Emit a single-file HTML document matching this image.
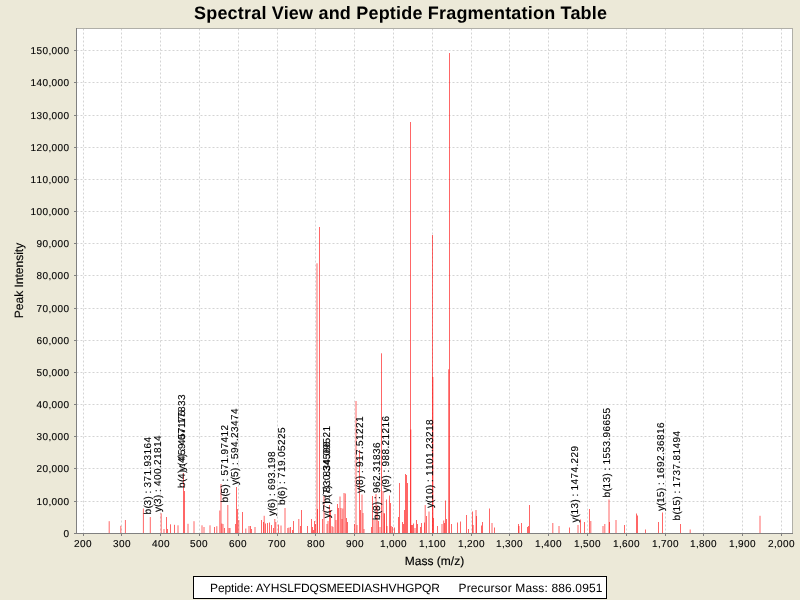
<!DOCTYPE html><html><head><meta charset="utf-8"><style>html,body{margin:0;padding:0;background:#ECE9D8;overflow:hidden}svg{display:block;will-change:transform}text{font-family:"Liberation Sans",Arial,sans-serif;text-rendering:geometricPrecision}.s{stroke:#000;stroke-width:0.12px}.s2{stroke:#000;stroke-width:0.15px}</style></head><body>
<svg width="800" height="600" viewBox="0 0 800 600">
<rect width="800" height="600" fill="#ECE9D8"/>
<text x="400.5" y="19" font-size="18" font-weight="bold" text-anchor="middle" textLength="413" lengthAdjust="spacing">Spectral View and Peptide Fragmentation Table</text>
<rect x="76" y="28" width="717" height="506" fill="#fff"/>
<path d="M83.5 28.5V533M121.5 28.5V533M160.5 28.5V533M199.5 28.5V533M238.5 28.5V533M277.5 28.5V533M315.5 28.5V533M354.5 28.5V533M393.5 28.5V533M432.5 28.5V533M471.5 28.5V533M509.5 28.5V533M548.5 28.5V533M587.5 28.5V533M626.5 28.5V533M665.5 28.5V533M703.5 28.5V533M742.5 28.5V533M781.5 28.5V533M76.5 501.5H792M76.5 468.5H792M76.5 436.5H792M76.5 404.5H792M76.5 372.5H792M76.5 340.5H792M76.5 308.5H792M76.5 275.5H792M76.5 243.5H792M76.5 211.5H792M76.5 179.5H792M76.5 147.5H792M76.5 115.5H792M76.5 82.5H792M76.5 50.5H792" stroke="#d4d4d4" stroke-width="1" stroke-dasharray="2 2" fill="none"/>
<path d="M109.20 521.20V533M120.80 525.80V533M125.40 520.00V533M143.40 508.50V533M150.30 517.00V533M161.20 513.30V533M164.00 529.00V533M166.50 517.00V533M167.50 529.00V533M170.50 524.30V533M174.50 524.80V533M178.00 525.30V533M183.50 473.00V533M184.50 491.00V533M188.00 523.80V533M194.00 521.20V533M202.00 525.30V533M204.00 527.00V533M210.00 525.30V533M214.50 527.00V533M216.80 526.20V533M219.80 510.50V533M221.00 484.00V533M221.80 523.50V533M223.00 524.00V533M224.50 528.00V533M227.80 505.00V533M229.00 528.00V533M230.00 528.00V533M235.50 524.00V533M236.50 487.00V533M237.50 509.00V533M238.80 520.00V533M242.50 512.00V533M245.80 528.50V533M249.00 526.00V533M250.50 526.00V533M251.50 529.00V533M255.00 527.00V533M261.50 520.00V533M263.50 522.00V533M264.20 515.80V533M265.50 523.50V533M267.50 523.00V533M269.50 522.50V533M271.50 525.00V533M273.50 528.00V533M274.80 519.00V533M275.80 522.00V533M278.50 524.50V533M281.00 525.50V533M285.00 508.00V533M287.80 528.00V533M289.00 527.50V533M290.50 527.00V533M292.50 530.00V533M293.50 521.00V533M298.80 519.00V533M300.50 526.00V533M301.50 510.00V533M307.50 526.00V533M311.50 519.00V533M312.50 527.00V533M313.50 530.00V533M314.50 521.00V533M315.50 524.00V533M317.00 263.30V533M317.50 509.00V533M319.50 227.00V533M322.50 519.00V533M324.00 496.00V533M327.00 524.00V533M328.00 521.00V533M329.50 505.00V533M330.50 510.00V533M332.00 526.00V533M333.00 527.00V533M335.00 514.00V533M336.00 520.00V533M337.50 504.00V533M338.50 508.00V533M340.00 496.50V533M341.00 508.00V533M342.00 519.00V533M342.80 508.50V533M344.00 493.00V533M345.30 493.50V533M346.50 518.00V533M347.50 522.00V533M354.50 524.00V533M356.00 401.00V533M357.00 525.00V533M359.50 450.00V533M360.50 510.00V533M362.00 494.50V533M363.00 513.00V533M364.00 529.00V533M371.50 527.00V533M372.50 496.00V533M374.00 520.00V533M376.00 494.00V533M377.20 505.00V533M378.50 521.00V533M380.00 527.00V533M381.50 353.30V533M383.00 491.00V533M384.00 513.00V533M384.50 513.50V533M386.50 499.50V533M387.00 526.00V533M389.50 495.50V533M390.50 503.00V533M391.20 526.00V533M392.50 527.00V533M394.50 527.50V533M398.50 517.00V533M399.50 483.00V533M402.50 522.00V533M403.50 524.00V533M404.50 510.00V533M405.50 474.00V533M406.50 475.00V533M407.50 483.00V533M410.50 122.00V533M410.80 429.50V533M411.50 525.00V533M412.50 525.00V533M413.50 523.50V533M415.00 528.00V533M416.50 520.00V533M417.50 524.00V533M420.50 527.00V533M421.50 523.00V533M424.50 522.50V533M425.20 505.00V533M426.50 516.00V533M429.00 511.50V533M432.50 235.00V533M432.90 377.00V533M433.50 518.00V533M437.50 526.00V533M442.00 524.00V533M443.70 520.50V533M444.50 523.00V533M445.50 500.50V533M446.50 519.00V533M449.50 53.00V533M448.70 369.30V533M451.50 524.00V533M457.50 522.50V533M460.50 521.50V533M466.50 515.00V533M468.50 529.00V533M472.50 511.50V533M473.20 525.00V533M476.00 510.00V533M476.50 516.00V533M481.50 525.50V533M482.50 522.00V533M489.50 508.50V533M492.00 523.00V533M494.50 527.50V533M518.50 524.00V533M519.00 526.00V533M521.50 523.00V533M527.50 527.00V533M528.50 526.00V533M529.50 505.00V533M552.80 523.00V533M559.00 526.00V533M569.50 527.50V533M578.00 525.00V533M580.50 519.50V533M584.50 522.00V533M589.50 509.00V533M590.80 521.00V533M603.00 526.00V533M604.80 524.00V533M609.00 499.50V533M609.50 522.00V533M616.00 520.00V533M624.50 525.00V533M636.50 513.50V533M637.50 515.50V533M645.50 529.50V533M658.50 522.00V533M662.50 512.50V533M680.50 524.00V533M690.20 529.50V533M760.00 515.80V533" stroke="#ff0000" stroke-opacity="0.6" stroke-width="1" fill="none"/>
<text class="s" transform="translate(150.50 514.50) rotate(-90)" font-size="10" x="0 6 9 15 18 21 24 27 33 39 45 48 54 60 66 72" y="0">b(3) : 371.93164</text>
<text class="s" transform="translate(161.30 512.00) rotate(-90)" font-size="10" x="0 5 8 14 17 20 23 26 32 38 44 47 53 59 65 71" y="0">y(3) : 400.21814</text>
<text class="s" transform="translate(184.50 488.00) rotate(-90)" font-size="10" x="0 6 9 15 18 21 24 27 33 39 45 48 54 60 66 72" y="0">b(4) : 459.07175</text>
<text class="s" transform="translate(184.50 471.00) rotate(-90)" font-size="10" x="0 5 8 14 17 20 23 26 32 38 44 47 53 59 65 71" y="0">y(4) : 457.17833</text>
<text class="s" transform="translate(228.00 502.50) rotate(-90)" font-size="10" x="0 6 9 15 18 21 24 27 33 39 45 48 54 60 66 72" y="0">b(5) : 571.97412</text>
<text class="s" transform="translate(237.70 485.00) rotate(-90)" font-size="10" x="0 5 8 14 17 20 23 26 32 38 44 47 53 59 65 71" y="0">y(5) : 594.23474</text>
<text class="s" transform="translate(275.00 516.00) rotate(-90)" font-size="10" x="0 5 8 14 17 20 23 26 32 38 44 47 53 59" y="0">y(6) : 693.198</text>
<text class="s" transform="translate(284.70 505.00) rotate(-90)" font-size="10" x="0 6 9 15 18 21 24 27 33 39 45 48 54 60 66 72" y="0">b(6) : 719.05225</text>
<text class="s" transform="translate(330.00 518.30) rotate(-90)" font-size="10" x="0 5 8 14 17 20 23 26 32 38 44 47 53 59 65 71" y="0">y(7) : 830.34566</text>
<text class="s" transform="translate(330.00 503.50) rotate(-90)" font-size="10" x="0 6 9 15 18 21 24 27 33 39 45 48 54 60 66 72" y="0">b(7) : 834.09521</text>
<text class="s" transform="translate(363.00 493.00) rotate(-90)" font-size="10" x="0 5 8 14 17 20 23 26 32 38 44 47 53 59 65 71" y="0">y(8) : 917.51221</text>
<text class="s" transform="translate(379.50 520.00) rotate(-90)" font-size="10" x="0 6 9 15 18 21 24 27 33 39 45 48 54 60 66 72" y="0">b(8) : 962.31836</text>
<text class="s" transform="translate(389.40 492.50) rotate(-90)" font-size="10" x="0 5 8 14 17 20 23 26 32 38 44 47 53 59 65 71" y="0">y(9) : 988.21216</text>
<text class="s" transform="translate(433.40 508.00) rotate(-90)" font-size="10" x="0 5 8 14 20 23 26 29 32 38 44 50 56 59 65 71 77 83" y="0">y(10) : 1101.23218</text>
<text class="s" transform="translate(578.40 522.40) rotate(-90)" font-size="10" x="0 5 8 14 20 23 26 29 32 38 44 50 56 59 65 71" y="0">y(13) : 1474.229</text>
<text class="s" transform="translate(610.00 497.50) rotate(-90)" font-size="10" x="0 6 9 15 21 24 27 30 33 39 45 51 57 60 66 72 78 84" y="0">b(13) : 1553.96655</text>
<text class="s" transform="translate(663.50 511.00) rotate(-90)" font-size="10" x="0 5 8 14 20 23 26 29 32 38 44 50 56 59 65 71 77 83" y="0">y(15) : 1692.36816</text>
<text class="s" transform="translate(680.00 520.60) rotate(-90)" font-size="10" x="0 6 9 15 21 24 27 30 33 39 45 51 57 60 66 72 78 84" y="0">b(15) : 1737.81494</text>
<path d="M76 28.5H792.5V533" stroke="#b0afa8" fill="none" shape-rendering="crispEdges"/>
<path d="M76.5 28V534M76 533.5H793M83.5 534V536M121.5 534V536M160.5 534V536M199.5 534V536M238.5 534V536M277.5 534V536M315.5 534V536M354.5 534V536M393.5 534V536M432.5 534V536M471.5 534V536M509.5 534V536M548.5 534V536M587.5 534V536M626.5 534V536M665.5 534V536M703.5 534V536M742.5 534V536M781.5 534V536M74 533.5H76M74 501.5H76M74 468.5H76M74 436.5H76M74 404.5H76M74 372.5H76M74 340.5H76M74 308.5H76M74 275.5H76M74 243.5H76M74 211.5H76M74 179.5H76M74 147.5H76M74 115.5H76M74 82.5H76M74 50.5H76" stroke="#808080" fill="none" shape-rendering="crispEdges"/>
<text class="s" x="74 80 86" y="547" font-size="10">200</text>
<text class="s" x="113 119 125" y="547" font-size="10">300</text>
<text class="s" x="152 158 164" y="547" font-size="10">400</text>
<text class="s" x="190 196 202" y="547" font-size="10">500</text>
<text class="s" x="229 235 241" y="547" font-size="10">600</text>
<text class="s" x="268 274 280" y="547" font-size="10">700</text>
<text class="s" x="307 313 319" y="547" font-size="10">800</text>
<text class="s" x="346 352 358" y="547" font-size="10">900</text>
<text class="s" x="380 386 389 395 401" y="547" font-size="10">1,000</text>
<text class="s" x="419 425 428 434 440" y="547" font-size="10">1,100</text>
<text class="s" x="458 464 467 473 479" y="547" font-size="10">1,200</text>
<text class="s" x="496 502 505 511 517" y="547" font-size="10">1,300</text>
<text class="s" x="535 541 544 550 556" y="547" font-size="10">1,400</text>
<text class="s" x="574 580 583 589 595" y="547" font-size="10">1,500</text>
<text class="s" x="613 619 622 628 634" y="547" font-size="10">1,600</text>
<text class="s" x="652 658 661 667 673" y="547" font-size="10">1,700</text>
<text class="s" x="690 696 699 705 711" y="547" font-size="10">1,800</text>
<text class="s" x="729 735 738 744 750" y="547" font-size="10">1,900</text>
<text class="s" x="768 774 777 783 789" y="547" font-size="10">2,000</text>
<text class="s" x="63.5" y="537" font-size="10">0</text>
<text class="s" x="36.5 42.5 48.5 51.5 57.5 63.5" y="505" font-size="10">10,000</text>
<text class="s" x="36.5 42.5 48.5 51.5 57.5 63.5" y="472" font-size="10">20,000</text>
<text class="s" x="36.5 42.5 48.5 51.5 57.5 63.5" y="440" font-size="10">30,000</text>
<text class="s" x="36.5 42.5 48.5 51.5 57.5 63.5" y="408" font-size="10">40,000</text>
<text class="s" x="36.5 42.5 48.5 51.5 57.5 63.5" y="376" font-size="10">50,000</text>
<text class="s" x="36.5 42.5 48.5 51.5 57.5 63.5" y="344" font-size="10">60,000</text>
<text class="s" x="36.5 42.5 48.5 51.5 57.5 63.5" y="312" font-size="10">70,000</text>
<text class="s" x="36.5 42.5 48.5 51.5 57.5 63.5" y="279" font-size="10">80,000</text>
<text class="s" x="36.5 42.5 48.5 51.5 57.5 63.5" y="247" font-size="10">90,000</text>
<text class="s" x="30.5 36.5 42.5 48.5 51.5 57.5 63.5" y="215" font-size="10">100,000</text>
<text class="s" x="30.5 36.5 42.5 48.5 51.5 57.5 63.5" y="183" font-size="10">110,000</text>
<text class="s" x="30.5 36.5 42.5 48.5 51.5 57.5 63.5" y="151" font-size="10">120,000</text>
<text class="s" x="30.5 36.5 42.5 48.5 51.5 57.5 63.5" y="119" font-size="10">130,000</text>
<text class="s" x="30.5 36.5 42.5 48.5 51.5 57.5 63.5" y="86" font-size="10">140,000</text>
<text class="s" x="30.5 36.5 42.5 48.5 51.5 57.5 63.5" y="54" font-size="10">150,000</text>
<text class="s2" x="434.5" y="565" font-size="12" text-anchor="middle">Mass (m/z)</text>
<text class="s2" transform="translate(22.6 280.5) rotate(-90)" font-size="12" text-anchor="middle">Peak Intensity</text>
<rect x="193.5" y="576.5" width="413" height="22" fill="#fff" stroke="#000" stroke-width="1"/>
<text x="210" y="592" font-size="12" textLength="230" lengthAdjust="spacing">Peptide: AYHSLFDQSMEEDIASHVHGPQR</text>
<text x="458.5" y="592" font-size="12" textLength="144" lengthAdjust="spacing">Precursor Mass: 886.0951</text>
</svg></body></html>
